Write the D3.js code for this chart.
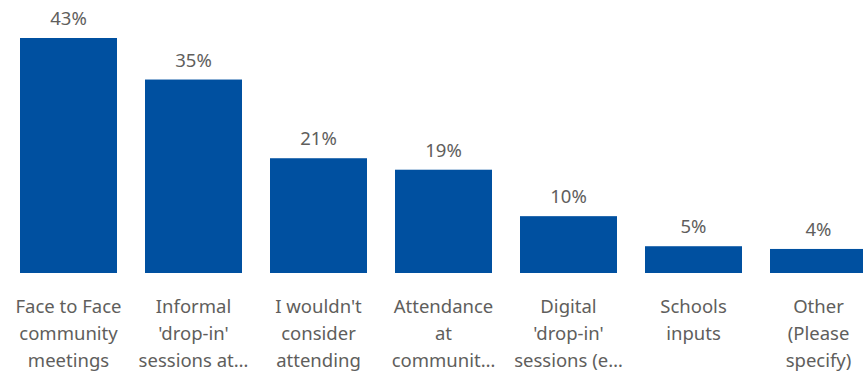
<!DOCTYPE html>
<html>
<head>
<meta charset="utf-8">
<script src="https://cdn.jsdelivr.net/npm/d3@7"></script>
<style>
  html, body { margin: 0; padding: 0; background: #fff; overflow: hidden; }
  svg { display: block; }
  text { font-family: "Noto Sans", "Open Sans", sans-serif; fill: #605e5c; }
</style>
</head>
<body>
<svg id="chart" width="863" height="374"></svg>
<script>
const categories = [
  ["Face to Face", "community", "meetings"],
  ["Informal", "'drop-in'", "sessions at…"],
  ["I wouldn't", "consider", "attending"],
  ["Attendance", "at", "communit…"],
  ["Digital", "'drop-in'", "sessions (e…"],
  ["Schools", "inputs"],
  ["Other", "(Please", "specify)"]
];
const values = [43.0, 35.4, 21.0, 18.9, 10.4, 4.9, 4.4];
const valueLabels = ["43%", "35%", "21%", "19%", "10%", "5%", "4%"];

const svg = d3.select("#chart");
const ids = d3.range(values.length);

const x = d3.scaleBand()
  .domain(ids)
  .range([20, 867])
  .paddingInner(0.224)
  .paddingOuter(0);

const y = d3.scaleLinear()
  .domain([0, 43])
  .range([273, 38]);

svg.append("g").selectAll("rect")
  .data(ids)
  .join("rect")
  .attr("x", i => x(i))
  .attr("y", i => y(values[i]))
  .attr("width", x.bandwidth())
  .attr("height", i => y(0) - y(values[i]))
  .attr("fill", "#0050a0");

svg.append("g").selectAll("text")
  .data(ids)
  .join("text")
  .attr("x", i => x(i) + x.bandwidth() / 2)
  .attr("y", i => y(values[i]) - 13)
  .attr("text-anchor", "middle")
  .style("font-size", "18.5px")
  .text(i => valueLabels[i]);

const lab = svg.append("g").selectAll("text")
  .data(ids)
  .join("text")
  .attr("text-anchor", "middle")
  .style("font-size", "18.5px");

lab.each(function(i) {
  const t = d3.select(this);
  categories[i].forEach((line, k) => {
    t.append("tspan")
      .attr("x", x(i) + x.bandwidth() / 2)
      .attr("y", 313 + k * 27)
      .text(line);
  });
});
</script>
</body>
</html>
